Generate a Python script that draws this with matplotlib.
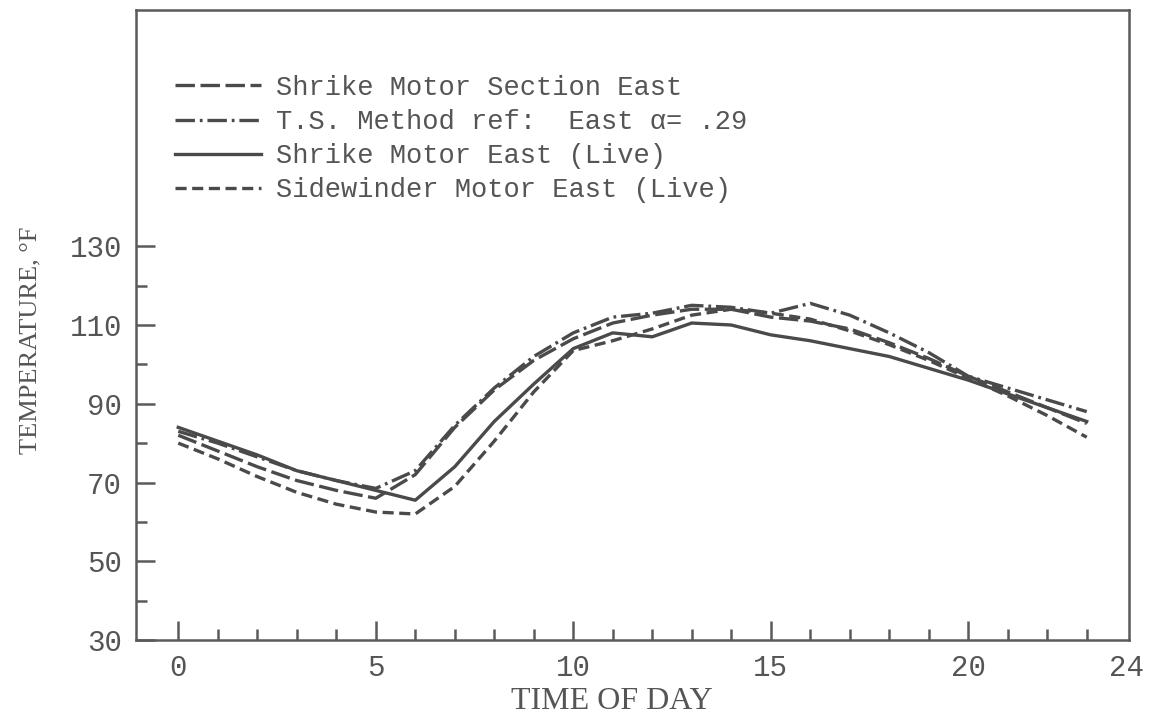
import numpy as np
import matplotlib
matplotlib.use("Agg")
import matplotlib.pyplot as plt
from matplotlib.ticker import FixedLocator

# hourly temperatures, deg F
hours = list(range(24))
shrike_section = [82, 78, 74, 70.5, 68, 66, 72, 84, 93.5, 101, 106.5, 110.5,
                  112.5, 114, 114, 112, 111, 109, 105.5, 101.5, 97, 93, 89, 85]
ts_method = [83, 80, 76.5, 73, 70.5, 68.5, 73, 84.5, 94, 102, 108, 112,
             113, 115, 114.5, 113, 115.5, 112.5, 108, 103, 97, 94, 91, 88]
shrike_live = [84, 80.5, 77, 73, 70.5, 68, 65.5, 74, 85.5, 95, 104, 108,
               107, 110.5, 110, 107.5, 106, 104, 102, 99, 96, 92.5, 89, 85.5]
sidewinder_live = [80, 76, 71.5, 67.5, 64.5, 62.5, 62, 69, 80.5, 93, 103.5, 106,
                   109, 112.5, 114, 113, 111.5, 108.5, 105, 101, 96.5, 92, 87, 81.5]

labels = ["Shrike Motor Section East",
          "T.S. Method ref:  East \u03b1= .29",
          "Shrike Motor East (Live)",
          "Sidewinder Motor East (Live)"]
xtick_vals = [0, 5, 10, 15, 20, 24]
ytick_vals = [30, 50, 70, 90, 110, 130]

ink = "#4a4a4a"
txt = "#555555"
mono = "Liberation Mono"
plt.rcParams["lines.scale_dashes"] = False

fig = plt.figure(figsize=(11.5, 7.14), dpi=100)
ax = fig.add_axes([136 / 1150, 1 - 640 / 714, 993 / 1150, 630 / 714])

styles = [
    dict(dashes=(14, 4)),
    dict(dashes=(14, 3.5, 2, 3.5)),
    dict(linestyle="-"),
    dict(dashes=(8, 4)),
]
series = [shrike_section, ts_method, shrike_live, sidewinder_live]
for vals, lab, st in zip(series, labels, styles):
    ax.plot(hours, vals, color=ink, lw=2.4, label=lab, **st)

ax.set_xlim(-1.07, 24.07)
ax.set_ylim(30, 190)

for sp in ax.spines.values():
    sp.set_color("#5a5a5a")
    sp.set_linewidth(1.8)

ax.xaxis.set_major_locator(FixedLocator(xtick_vals))
ax.xaxis.set_minor_locator(FixedLocator([h for h in range(1, 24) if h % 5]))
ax.yaxis.set_major_locator(FixedLocator(ytick_vals))
ax.yaxis.set_minor_locator(FixedLocator([40, 60, 80, 100, 120]))
ax.set_xticklabels([str(v) for v in xtick_vals])
ax.set_yticklabels([str(v) for v in ytick_vals])

ax.tick_params(which="both", direction="in", color="#5a5a5a", width=1.8,
               labelcolor=txt, top=False, right=False)
ax.tick_params(which="major", length=14, pad=10, labelsize=21)
ax.tick_params(which="minor", length=8)
for lbl in ax.get_xticklabels() + ax.get_yticklabels():
    lbl.set_fontfamily(mono)
# no tick mark at the 24 h end, only its label
ax.xaxis.get_major_ticks()[-1].tick1line.set_visible(False)

ax.set_xlabel("TIME OF DAY", fontfamily="Liberation Serif", fontsize=23,
              color=txt, va="center")
ax.xaxis.set_label_coords(0.479, -0.097)
ax.set_ylabel("TEMPERATURE, \u00b0F", fontfamily="Liberation Serif",
              fontsize=19, color=txt, va="center")
ax.yaxis.set_label_coords(-0.106, 0.476)

leg = ax.legend(loc="upper left", bbox_to_anchor=(0.039, 0.897), frameon=False,
                prop={"family": mono, "size": 19.5}, handlelength=3.2,
                handletextpad=0.55, labelspacing=0.3, borderpad=0,
                borderaxespad=0)
for t in leg.get_texts():
    t.set_color(txt)

fig.savefig("out.png", dpi=100)
